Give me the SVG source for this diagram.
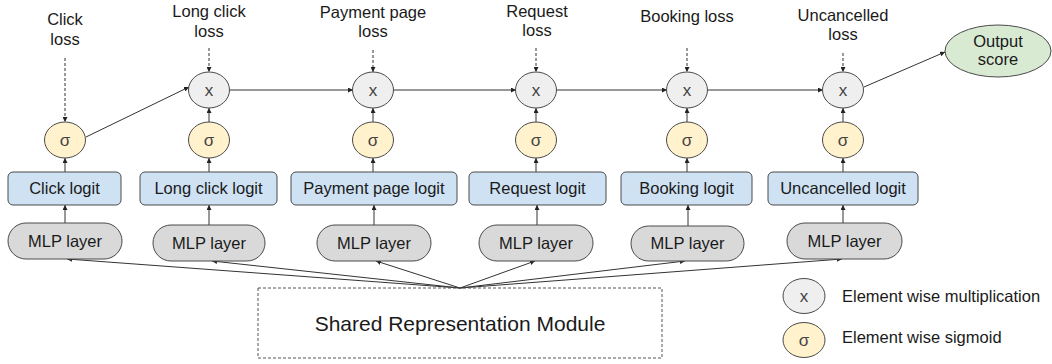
<svg xmlns="http://www.w3.org/2000/svg" width="1052" height="364" viewBox="0 0 1052 364">
<defs>
<marker id="ah" viewBox="0 0 6 6" refX="6" refY="3" markerWidth="5" markerHeight="5" markerUnits="userSpaceOnUse" orient="auto">
<path d="M0,0 L6,3 L0,6 z" fill="#222"/>
</marker>
</defs>
<style>
text{font-family:"Liberation Sans",Arial,sans-serif;font-size:16.5px;fill:#1a1a1a;text-anchor:middle}
.logit{fill:#cfe2f3;stroke:#4a4a4a;stroke-width:1}
.mlp{fill:#d9d9d9;stroke:#4a4a4a;stroke-width:1}
.mul{fill:#efefef;stroke:#4a4a4a;stroke-width:1}
.sig{fill:#fff2cc;stroke:#4a4a4a;stroke-width:1}
.out{fill:#d9ead3;stroke:#4a4a4a;stroke-width:1}
.sym{fill:#444;font-size:17px}
.c line{stroke:#333;stroke-width:1;fill:none}
.c .a{marker-end:url(#ah)}
.c .d{stroke-dasharray:3,2}
.legend{text-anchor:start}
</style>
<rect width="1052" height="364" fill="#fff"/>

<g id="labels">
<text x="65" y="25">Click</text><text x="65" y="45">loss</text>
<text x="209" y="17">Long click</text><text x="209" y="37">loss</text>
<text x="373" y="18">Payment page</text><text x="373" y="37">loss</text>
<text x="537" y="17">Request</text><text x="537" y="36">loss</text>
<text x="687" y="22">Booking loss</text>
<text x="843" y="21">Uncancelled</text><text x="843" y="40">loss</text>
</g>

<g class="c" id="connectors">
<line class="a d" x1="65" y1="58" x2="65" y2="122"/>
<line class="a d" x1="209" y1="48" x2="209" y2="72"/>
<line class="a d" x1="373" y1="50" x2="373" y2="72"/>
<line class="a d" x1="536" y1="48" x2="536" y2="72"/>
<line class="a d" x1="687" y1="48" x2="687" y2="72"/>
<line class="a d" x1="843" y1="53" x2="843" y2="72"/>

<line class="a" x1="86" y1="137" x2="189" y2="87"/>
<line class="a" x1="230" y1="90" x2="353" y2="90"/>
<line class="a" x1="393" y1="90" x2="516" y2="90"/>
<line class="a" x1="556" y1="90" x2="667" y2="90"/>
<line class="a" x1="707" y1="90" x2="823" y2="90"/>
<line class="a" x1="864" y1="87" x2="945" y2="52"/>

<line class="a" x1="209" y1="122" x2="209" y2="108"/>
<line class="a" x1="373" y1="122" x2="373" y2="108"/>
<line class="a" x1="536" y1="122" x2="536" y2="108"/>
<line class="a" x1="687" y1="122" x2="687" y2="108"/>
<line class="a" x1="843" y1="122" x2="843" y2="108"/>

<line class="a" x1="65" y1="172" x2="65" y2="158"/>
<line class="a" x1="209" y1="172" x2="209" y2="158"/>
<line class="a" x1="373" y1="172" x2="373" y2="158"/>
<line class="a" x1="536" y1="172" x2="536" y2="158"/>
<line class="a" x1="687" y1="172" x2="687" y2="158"/>
<line class="a" x1="843" y1="172" x2="843" y2="158"/>

<line class="a" x1="65" y1="223" x2="65" y2="205"/>
<line class="a" x1="209" y1="225" x2="209" y2="205"/>
<line class="a" x1="374" y1="225" x2="374" y2="205"/>
<line class="a" x1="537" y1="225" x2="537" y2="205"/>
<line class="a" x1="688" y1="226" x2="688" y2="205"/>
<line class="a" x1="843" y1="223" x2="843" y2="205"/>

<line class="a" x1="460" y1="288" x2="67" y2="259"/>
<line class="a" x1="460" y1="288" x2="212" y2="261"/>
<line class="a" x1="460" y1="288" x2="376" y2="261"/>
<line class="a" x1="460" y1="288" x2="535" y2="261"/>
<line class="a" x1="460" y1="288" x2="685" y2="261"/>
<line class="a" x1="460" y1="288" x2="842" y2="259"/>
</g>

<g id="mul2"><ellipse class="mul" cx="209" cy="90" rx="20.5" ry="18"/><text class="sym" x="209" y="96">x</text></g>
<g id="mul3"><ellipse class="mul" cx="373" cy="90" rx="20.5" ry="18"/><text class="sym" x="373" y="96">x</text></g>
<g id="mul4"><ellipse class="mul" cx="536" cy="90" rx="20.5" ry="18"/><text class="sym" x="536" y="96">x</text></g>
<g id="mul5"><ellipse class="mul" cx="687" cy="90" rx="20.5" ry="18"/><text class="sym" x="687" y="96">x</text></g>
<g id="mul6"><ellipse class="mul" cx="843" cy="90" rx="20.5" ry="18"/><text class="sym" x="843" y="96">x</text></g>

<g id="output"><ellipse class="out" cx="998" cy="51" rx="53" ry="26"/><text x="998" y="47">Output</text><text x="998" y="65">score</text></g>

<g id="sig1"><ellipse class="sig" cx="65" cy="140" rx="20.5" ry="18"/><text class="sym" x="65" y="146">σ</text></g>
<g id="sig2"><ellipse class="sig" cx="209" cy="140" rx="20.5" ry="18"/><text class="sym" x="209" y="146">σ</text></g>
<g id="sig3"><ellipse class="sig" cx="373" cy="140" rx="20.5" ry="18"/><text class="sym" x="373" y="146">σ</text></g>
<g id="sig4"><ellipse class="sig" cx="536" cy="140" rx="20.5" ry="18"/><text class="sym" x="536" y="146">σ</text></g>
<g id="sig5"><ellipse class="sig" cx="687" cy="140" rx="20.5" ry="18"/><text class="sym" x="687" y="146">σ</text></g>
<g id="sig6"><ellipse class="sig" cx="843" cy="140" rx="20.5" ry="18"/><text class="sym" x="843" y="146">σ</text></g>

<g id="logit1"><rect class="logit" x="8" y="172" width="113" height="33" rx="5"/><text x="64.5" y="194">Click logit</text></g>
<g id="logit2"><rect class="logit" x="140" y="172" width="137" height="33" rx="5"/><text x="208.5" y="194">Long click logit</text></g>
<g id="logit3"><rect class="logit" x="291" y="172" width="166" height="33" rx="5"/><text x="374" y="194">Payment page logit</text></g>
<g id="logit4"><rect class="logit" x="469" y="172" width="137" height="33" rx="5"/><text x="537.5" y="194">Request logit</text></g>
<g id="logit5"><rect class="logit" x="621" y="172" width="131" height="33" rx="5"/><text x="686.5" y="194">Booking logit</text></g>
<g id="logit6"><rect class="logit" x="768" y="172" width="150" height="33" rx="5"/><text x="843" y="194">Uncancelled logit</text></g>

<g id="mlp1"><rect class="mlp" x="8" y="223" width="114" height="36" rx="18"/><text x="65" y="247">MLP layer</text></g>
<g id="mlp2"><rect class="mlp" x="153" y="225" width="112" height="36" rx="18"/><text x="209" y="249">MLP layer</text></g>
<g id="mlp3"><rect class="mlp" x="317" y="225" width="114" height="36" rx="18"/><text x="374" y="249">MLP layer</text></g>
<g id="mlp4"><rect class="mlp" x="479" y="225" width="114" height="36" rx="18"/><text x="536" y="249">MLP layer</text></g>
<g id="mlp5"><rect class="mlp" x="631" y="226" width="113" height="35" rx="17.5"/><text x="687.5" y="249">MLP layer</text></g>
<g id="mlp6"><rect class="mlp" x="787" y="223" width="115" height="36" rx="18"/><text x="844.5" y="247">MLP layer</text></g>

<g id="shared"><rect x="258" y="288" width="404" height="70" fill="none" stroke="#555" stroke-width="1" stroke-dasharray="3,2"/><text x="460" y="331" style="font-size:21px">Shared Representation Module</text></g>

<g id="legend">
<ellipse class="mul" cx="804" cy="296" rx="21" ry="17.5"/><text class="sym" x="804" y="302">x</text>
<text class="legend" x="842" y="302">Element wise multiplication</text>
<ellipse class="sig" cx="804" cy="340" rx="21" ry="17.5"/><text class="sym" x="804" y="346">σ</text>
<text class="legend" x="842" y="343">Element wise sigmoid</text>
</g>
</svg>
